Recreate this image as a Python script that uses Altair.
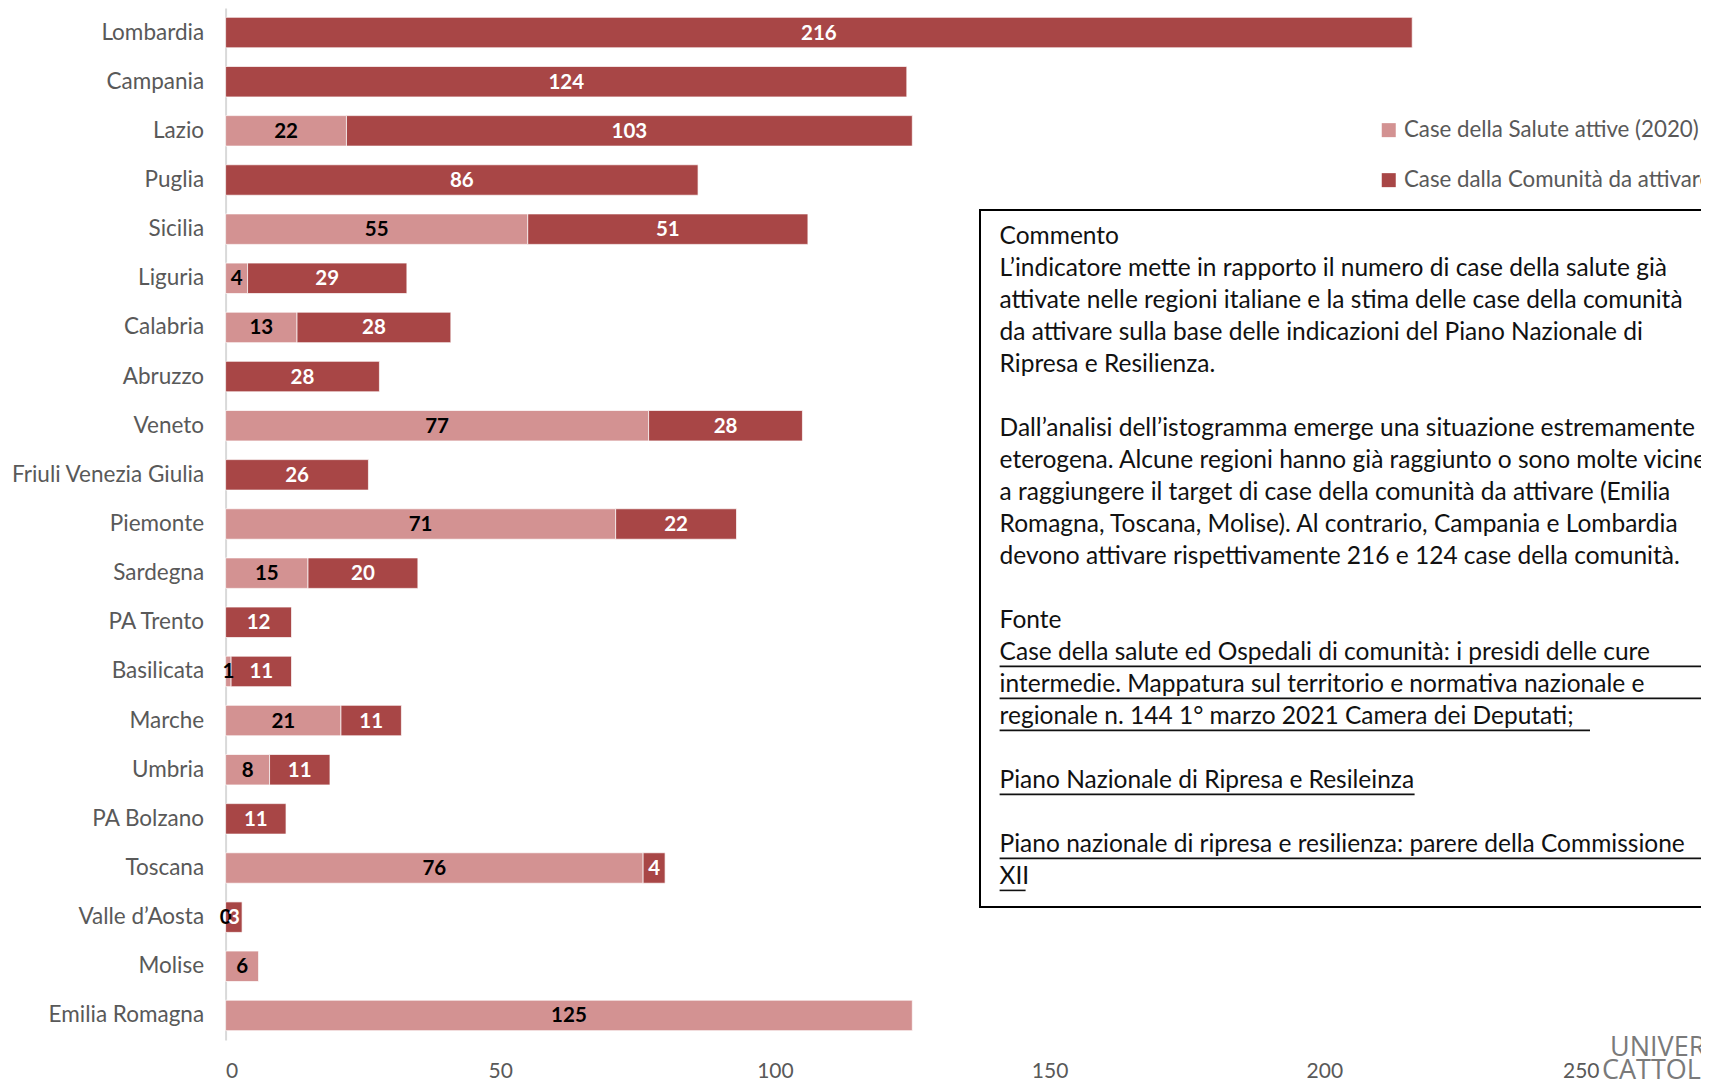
import altair as alt
import pandas as pd

# ---------------- data ----------------
regions = ["Lombardia", "Campania", "Lazio", "Puglia", "Sicilia", "Liguria", "Calabria",
           "Abruzzo", "Veneto", "Friuli Venezia Giulia", "Piemonte", "Sardegna", "PA Trento",
           "Basilicata", "Marche", "Umbria", "PA Bolzano", "Toscana", "Valle d’Aosta",
           "Molise", "Emilia Romagna"]
attive = [None, None, 22, None, 55, 4, 13, None, 77, None, 71, 15, None, 1, 21, 8, None, 76, 0, 6, 125]
da_attivare = [216, 124, 103, 86, 51, 29, 28, 28, 28, 26, 22, 20, 12, 11, 11, 11, 11, 4, 3, None, None]
series = ["Case della Salute attive (2020)", "Case dalla Comunità da attivare"]
colors = ["#D39292", "#A84646"]
x_ticks = [0, 50, 100, 150, 200, 250]

comment_lines = [
    "Commento",
    "L’indicatore mette in rapporto il numero di case della salute già",
    "attivate nelle regioni italiane e la stima delle case della comunità",
    "da attivare sulla base delle indicazioni del Piano Nazionale di",
    "Ripresa e Resilienza.",
    "",
    "Dall’analisi dell’istogramma emerge una situazione estremamente",
    "eterogena. Alcune regioni hanno già raggiunto o sono molte vicine",
    "a raggiungere il target di case della comunità da attivare (Emilia",
    "Romagna, Toscana, Molise). Al contrario, Campania e Lombardia",
    "devono attivare rispettivamente 216 e 124 case della comunità.",
    "",
    "Fonte",
    "Case della salute ed Ospedali di comunità: i presidi delle cure",
    "intermedie. Mappatura sul territorio e normativa nazionale e",
    "regionale n. 144 1°   marzo 2021 Camera dei Deputati;",
    "",
    "Piano Nazionale di Ripresa e Resileinza",
    "",
    "Piano nazionale di ripresa e resilienza: parere della Commissione",
    "XII",
]
logo_lines = ["UNIVERSITÀ", "CATTOLICA"]

rows = []
for r, a, d in zip(regions, attive, da_attivare):
    if a is not None:
        rows.append({"region": r, "series": series[0], "value": a, "ord": 0})
    if d is not None:
        rows.append({"region": r, "series": series[1], "value": d, "ord": 1})
df = pd.DataFrame(rows)

# ---------------- layout ----------------
FONT = "Lato"
PLOT_W = 1373.4
PLOT_H = 1032
LEFT = 217.6
TXT_X = 774
TXT_Y0 = 229.4
LINE_H = 32.0

xscale = alt.Scale(domain=[0, 250], nice=False, zero=True)
yscale = alt.Scale(paddingInner=0.38, paddingOuter=0.19)

base = (
    alt.Chart(df)
    .transform_stack(stack="value", as_=["v0", "v1"], groupby=["region"],
                     sort=[alt.SortField("ord", order="ascending")])
    .transform_calculate(mid="(datum.v0 + datum.v1) / 2")
)

yenc = alt.Y("region:N", sort=regions, scale=yscale,
             axis=alt.Axis(title=None, labelFont=FONT, labelFontSize=22.5, labelColor="#595959",
                           labelPadding=22, ticks=False, tickSize=0, domainColor="#d9d9d9",
                           domainWidth=2, grid=False, labelLimit=400))

bars = base.mark_bar(stroke="white", strokeWidth=1, strokeOpacity=0.7).encode(
    x=alt.X("v0:Q", scale=xscale,
            axis=alt.Axis(title=None, values=x_ticks, labelFont=FONT, labelFontSize=21,
                          labelColor="#595959", labelPadding=20, ticks=False, tickSize=0,
                          domain=False, grid=False)),
    x2="v1:Q",
    y=yenc,
    color=alt.Color("series:N", scale=alt.Scale(domain=series, range=colors),
                    legend=alt.Legend(title=None, orient="none", legendX=1152, legendY=111,
                                      direction="vertical", padding=0, symbolType="square",
                                      symbolSize=196, symbolStrokeWidth=0, labelFont=FONT,
                                      labelFontSize=22.3, labelColor="#595959", labelOffset=4,
                                      rowPadding=27, labelLimit=600)),
)

labels = base.mark_text(font=FONT, fontSize=20.5, fontWeight="bold", baseline="middle", dy=1).encode(
    x=alt.X("mid:Q", scale=xscale),
    y=alt.Y("region:N", sort=regions, scale=yscale),
    text="value:Q",
    color=alt.condition("datum.ord == 0", alt.value("black"), alt.value("white")),
)

one = pd.DataFrame({"k": [0]})

box = alt.Chart(one).mark_rect(fillOpacity=0, stroke="black", strokeWidth=2).encode(
    x=alt.value(754.4), x2=alt.value(1520), y=alt.value(202), y2=alt.value(899))

text_df = pd.DataFrame({"line": comment_lines, "i": list(range(len(comment_lines)))})
box_text = (
    alt.Chart(text_df)
    .transform_calculate(py=f"{TXT_Y0} + datum.i * {LINE_H}")
    .mark_text(align="left", baseline="middle", font=FONT, fontSize=24.5, color="#111111")
    .encode(x=alt.value(TXT_X), y=alt.Y("py:Q", scale=None), text="line:N")
)

# underlines of the source links: (line index, right end in px from plot origin)
underline_specs = [(13, 1520), (14, 1520), (15, 1590 - 225.6), (17, 1414.6 - 225.6),
                   (19, 1520), (20, 1025.6 - 225.6)]
underlines = [
    alt.Chart(one).mark_rule(color="#111111", strokeWidth=1.6).encode(
        x=alt.value(TXT_X), x2=alt.value(xe), y=alt.value(TXT_Y0 + i * LINE_H + 13))
    for i, xe in underline_specs
]

logo_df = pd.DataFrame({"t": logo_lines, "i": [0, 1]})
logo = (
    alt.Chart(logo_df)
    .transform_calculate(py="1040 + datum.i * 23", px="1384.4 - datum.i * 8")
    .mark_text(align="left", baseline="middle", font="Open Sans", fontSize=27, color="#7a7a7a")
    .encode(x=alt.X("px:Q", scale=None), y=alt.Y("py:Q", scale=None), text="t:N")
)

chart = (
    alt.layer(bars, labels, box, box_text, *underlines, logo)
    .properties(width=PLOT_W, height=PLOT_H,
                autosize=alt.AutoSizeParams(type="none"),
                padding={"left": LEFT, "top": 0, "right": 1693 - LEFT - PLOT_W, "bottom": 42})
    .configure_view(stroke=None)
)

chart.save("out.html", embed_options={"renderer": "svg", "actions": False})
